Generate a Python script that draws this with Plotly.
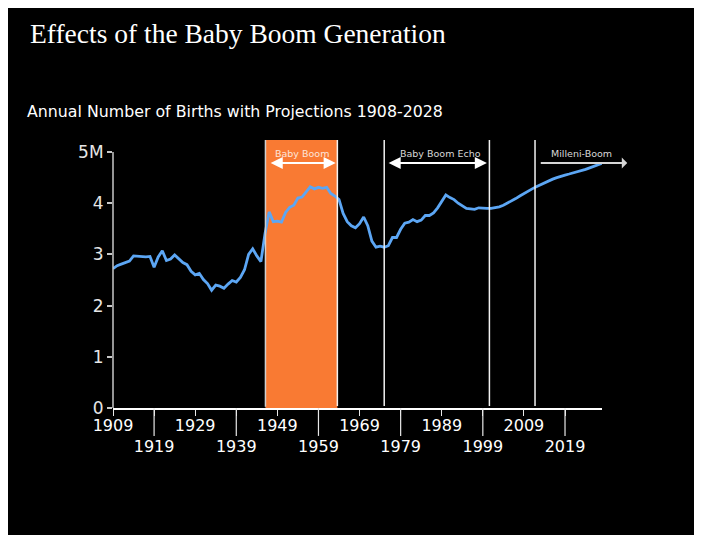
import plotly.graph_objects as go

# Annual births (millions), 1909-2028, projections after ~2008
years = list(range(1909, 2029))
births = [
    2.72, 2.78, 2.81, 2.84, 2.87, 2.97, 2.96, 2.96, 2.95, 2.96,  # 1909-1918
    2.75, 2.95, 3.07, 2.88, 2.91, 2.99, 2.91, 2.84, 2.80, 2.67,  # 1919-1928
    2.60, 2.63, 2.51, 2.43, 2.30, 2.40, 2.38, 2.34, 2.42, 2.49,  # 1929-1938
    2.46, 2.55, 2.70, 3.00, 3.11, 2.97, 2.86, 3.41, 3.83, 3.64,  # 1939-1948
    3.65, 3.63, 3.82, 3.92, 3.96, 4.10, 4.12, 4.22, 4.32, 4.28,  # 1949-1958
    4.31, 4.29, 4.31, 4.19, 4.14, 4.07, 3.80, 3.64, 3.56, 3.52,  # 1959-1968
    3.60, 3.73, 3.56, 3.26, 3.14, 3.16, 3.14, 3.17, 3.33, 3.33,  # 1969-1978
    3.49, 3.61, 3.63, 3.68, 3.64, 3.67, 3.76, 3.76, 3.81, 3.91,  # 1979-1988
    4.04, 4.16, 4.11, 4.07, 4.00, 3.95, 3.90, 3.89, 3.88, 3.91,  # 1989-1998
    3.90, 3.90, 3.90, 3.91, 3.93, 3.96, 4.00, 4.04, 4.09, 4.14,  # 1999-2008
    4.19, 4.24, 4.28, 4.32, 4.36, 4.40, 4.44, 4.47, 4.50, 4.53,  # 2009-2018
    4.55, 4.57, 4.59, 4.61, 4.63, 4.66, 4.69, 4.72, 4.75, 4.78,  # 2019-2028
]

tick_years = [1909, 1919, 1929, 1939, 1949, 1959, 1969, 1979, 1989, 1999, 2009, 2019]
y_ticks = [0, 1, 2, 3, 4, 5]
y_ticktext = ["0", "1", "2", "3", "4", "5M"]

# period boundaries (year) and labels
boom = (1946.1, 1963.6)
echo = (1975.0, 2000.6)
milleni_start = 2011.7
periods = [
    ("Baby Boom", 1947.0, 1963.2, 1955.0),
    ("Baby Boom Echo", 1975.7, 2000.0, 1988.6),
    ("Milleni-Boom", 2013.1, 2034.5, 2023.0),
]

X_RANGE = [1909, 2028]
LINE_TOP = 1.047  # in paper units, lines reach a bit above 5M

fig = go.Figure()

fig.add_trace(go.Scatter(
    x=years, y=births, mode="lines",
    line=dict(color="#5ca6f4", width=2.8),
    showlegend=False, hoverinfo="x+y",
))

shapes = []
# black slide background (white border around)
shapes.append(dict(type="rect", xref="paper", yref="paper",
                   x0=(6 - 113) / 489, x1=(698 - 113) / 489,
                   y0=(408 - 535) / 256, y1=(408 + 10) / 256,
                   fillcolor="black", line_width=0, layer="below"))
# baby boom band
shapes.append(dict(type="rect", xref="x", yref="paper",
                   x0=boom[0], x1=boom[1], y0=0, y1=LINE_TOP,
                   fillcolor="#f97a33", line_width=0, layer="below"))
shapes.append(dict(type="line", xref="x", yref="paper", x0=boom[0], x1=boom[0],
                   y0=0.005, y1=LINE_TOP, line=dict(color="#cfcfcf", width=1.5)))
for xv in [boom[1], echo[0], echo[1], milleni_start]:
    shapes.append(dict(type="line", xref="x", yref="paper", x0=xv, x1=xv,
                       y0=0.008, y1=LINE_TOP, line=dict(color="#f2f2f2", width=1.5)))
# long ticks for the second row of year labels
for i, yr in enumerate(tick_years):
    if i % 2 == 1:
        shapes.append(dict(type="line", xref="x", yref="paper", x0=yr, x1=yr,
                           y0=0, y1=-0.109, line=dict(color="#e8e8e8", width=1.2)))
# y axis line only up to 5M
shapes.append(dict(type="line", xref="paper", yref="y", x0=0, x1=0, y0=0, y1=5,
                   line=dict(color="#c8c8c8", width=1.5)))

annotations = []
for i, (label, x_start, x_end, x_label) in enumerate(periods):
    annotations.append(dict(
        text=label, x=x_label, y=1.023, xref="x", yref="paper",
        showarrow=False, font=dict(size=9.5, family="DejaVu Sans",
                                   color="#fde4da" if i == 0 else "#d8d8d8"),
    ))
    if i < 2:
        annotations.append(dict(
            x=x_end, y=0.957, ax=x_start, ay=0, xref="x", yref="paper",
            axref="x", ayref="pixel", text="", showarrow=True,
            arrowhead=2, arrowside="end+start", arrowsize=1.1, arrowwidth=2.2,
            arrowcolor="white",
        ))
    else:
        annotations.append(dict(
            x=x_start, y=0.957, ax=x_end, ay=0, xref="x", yref="paper",
            axref="x", ayref="pixel", text="", showarrow=True,
            arrowhead=2, arrowside="start", arrowsize=1.1, arrowwidth=1.8,
            arrowcolor="#d6d6d6",
        ))

annotations.append(dict(
    text="Annual Number of Births with Projections 1908-2028",
    xref="paper", yref="paper", x=(25 - 113) / 489, y=(408 - 111) / 256,
    xanchor="left", yanchor="middle", showarrow=False,
    font=dict(size=15.8, family="DejaVu Sans", color="white"),
))

fig.update_layout(
    width=702, height=539,
    margin=dict(l=105, r=108, t=144, b=139),
    paper_bgcolor="white",
    plot_bgcolor="rgba(0,0,0,0)",
    title=dict(text="Effects of the Baby Boom Generation",
               x=22 / 702, xanchor="left", xref="container",
               y=1 - 25 / 539, yanchor="middle", yref="container",
               font=dict(family="Liberation Serif", size=27.5, color="white")),
    xaxis=dict(range=X_RANGE, showgrid=False, zeroline=False,
               showline=True, linecolor="white", linewidth=2,
               tickmode="array", tickvals=tick_years,
               ticktext=[str(y) if i % 2 == 0 else "<br>" + str(y)
                         for i, y in enumerate(tick_years)],
               tickangle=0, ticklabelstandoff=-4,
               ticks="outside", ticklen=6, tickcolor="#e8e8e8", tickwidth=1.2,
               tickfont=dict(family="DejaVu Sans", size=16, color="white")),
    yaxis=dict(range=[0, 5], showgrid=False, zeroline=False, showline=False,
               tickmode="array", tickvals=y_ticks, ticktext=y_ticktext,
               ticks="outside", ticklen=5, tickcolor="#c8c8c8", tickwidth=1.5,
               tickfont=dict(family="DejaVu Sans", size=17, color="#e6e6e6")),
    shapes=shapes,
    annotations=annotations,
    showlegend=False,
)

fig.write_html("out.html")
